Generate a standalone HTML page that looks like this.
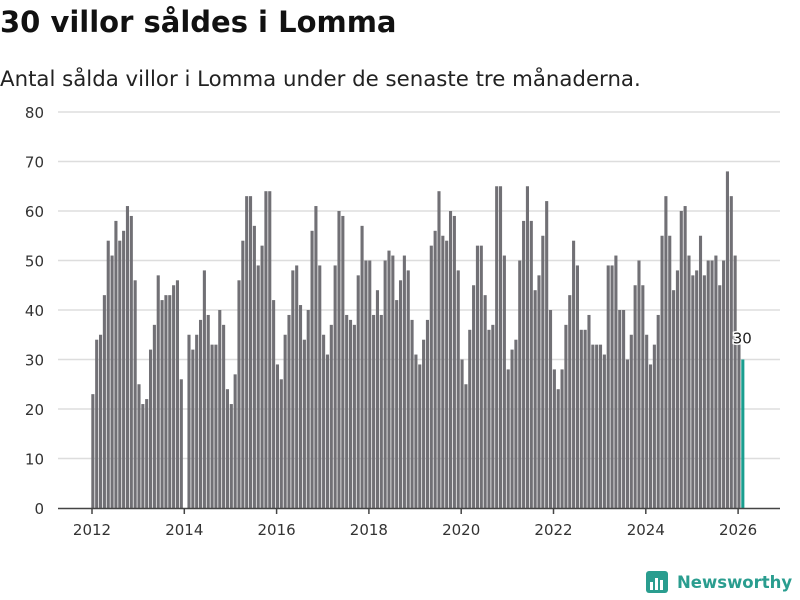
<!DOCTYPE html>
<html><head><meta charset="utf-8"><style>
body{margin:0;width:800px;height:600px;background:#fff;font-family:"DejaVu Sans","Liberation Sans",sans-serif;overflow:hidden}
h1{position:absolute;left:0;top:5px;margin:0;font-size:29px;font-weight:bold;color:#111}
p{position:absolute;left:0;top:67px;margin:0;font-size:21.3px;color:#222}
</style></head><body>
<h1>30 villor såldes i Lomma</h1>
<p>Antal sålda villor i Lomma under de senaste tre månaderna.</p>
<svg id="c" width="800" height="600" style="position:absolute;left:0;top:0"></svg>
<div style="position:absolute;left:645px;top:570px;display:flex;align-items:center;color:#2a9d8f;font-size:16.5px;font-weight:bold;font-family:'DejaVu Sans',sans-serif">
<svg width="24" height="24"><rect x="1" y="1" width="22" height="22" rx="3" fill="#2a9d8f"/><rect x="5" y="12" width="3" height="8" fill="#fff"/><rect x="10" y="8" width="3" height="12" fill="#fff"/><rect x="15" y="10" width="3" height="10" fill="#fff"/></svg>
<span style="margin-left:8px">Newsworthy</span></div>
<script>
const startYear = 2012;
const values = [
23,34,35,43,54,51,58,54,56,61,59,46,
25,21,22,32,37,47,42,43,43,45,46,26,
0,35,32,35,38,48,39,33,33,40,37,24,
21,27,46,54,63,63,57,49,53,64,64,42,
29,26,35,39,48,49,41,34,40,56,61,49,
35,31,37,49,60,59,39,38,37,47,57,50,
50,39,44,39,50,52,51,42,46,51,48,38,
31,29,34,38,53,56,64,55,54,60,59,48,
30,25,36,45,53,53,43,36,37,65,65,51,
28,32,34,50,58,65,58,44,47,55,62,40,
28,24,28,37,43,54,49,36,36,39,33,33,
33,31,49,49,51,40,40,30,35,45,50,45,
35,29,33,39,55,63,55,44,48,60,61,51,
47,48,55,47,50,50,51,45,50,68,63,51,
33,30];
const yTicks = [0,10,20,30,40,50,60,70,80];
const xTicks = [2012,2014,2016,2018,2020,2022,2024,2026];
const svg = document.getElementById('c');
const NS = 'http://www.w3.org/2000/svg';
const FONT = 'DejaVu Sans, Liberation Sans, sans-serif';
const y = v => 508 - v * 4.95;
const x = i => 91.3 + i * 3.846; // month index
const xYear = yr => 92 + (yr - startYear) * 46.15;
function mk(t, a) { const e = document.createElementNS(NS, t); for (const k in a) e.setAttribute(k, a[k]); svg.appendChild(e); return e; }
yTicks.forEach(v => {
  if (v > 0) {
    const g = mk('line', {x1: 58, x2: 780, y1: y(v), y2: y(v), stroke: '#ddd', 'stroke-width': 1.5});
    
    
  }
  const t = mk('text', {x: 44, y: y(v) + 6, 'text-anchor': 'end', 'font-size': 15, fill: '#333', 'font-family': FONT});
  t.textContent = v;
  
  
});
values.forEach((v, i) => {
  const last = i === values.length - 1;
  const r = mk('rect', {x: x(i), y: y(v), width: 3.1, height: 508 - y(v), fill: last ? '#1a9e8f' : '#717075'});
  
  
  if (last) {
    const t = mk('text', {x: x(i) + 1, y: y(v) - 16, 'text-anchor': 'middle', 'font-size': 15, fill: '#222', stroke: '#fff', 'stroke-width': 3, 'paint-order': 'stroke', 'font-family': FONT});
    t.textContent = v;
    
    
  }
});
const ax = mk('line', {x1: 58, x2: 780, y1: 508.5, y2: 508.5, stroke: '#444', 'stroke-width': 1.5});


xTicks.forEach(yr => {
  const l = mk('line', {x1: xYear(yr), x2: xYear(yr), y1: 508, y2: 514, stroke: '#444', 'stroke-width': 1.5});
  
  
  const t = mk('text', {x: xYear(yr), y: 535, 'text-anchor': 'middle', 'font-size': 15, fill: '#333', 'font-family': FONT});
  t.textContent = yr;
  
  
});
</script>
</body></html>
